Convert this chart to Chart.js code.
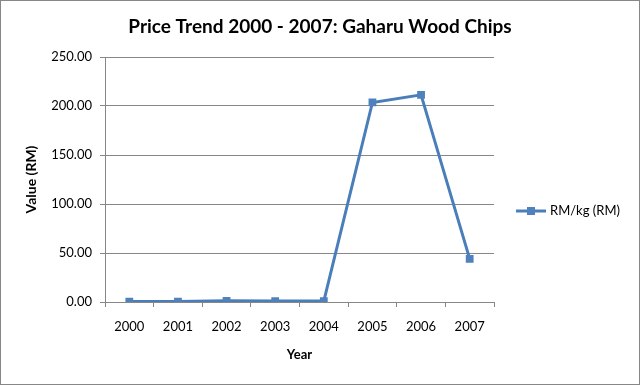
<!DOCTYPE html>
<html>
<head>
<meta charset="utf-8">
<script src="https://cdn.jsdelivr.net/npm/chart.js@4.4.0/dist/chart.umd.min.js"></script>
<style>
  html, body { margin: 0; padding: 0; background: #fff; }
  #wrap { width: 640px; height: 385px; position: relative; }
</style>
</head>
<body>
<div id="wrap"><canvas id="myChart" width="640" height="385"></canvas></div>
<script>
// data
var years = ['2000', '2001', '2002', '2003', '2004', '2005', '2006', '2007'];
var rmPerKg = [0.4, 0.4, 1.2, 0.9, 0.9, 203.6, 211.4, 44.0];
var seriesName = 'RM/kg (RM)';
var chartTitle = 'Price Trend 2000 - 2007: Gaharu Wood Chips';
var yTicks = [0, 50, 100, 150, 200, 250];

var FONT = 'Lato, "Open Sans", sans-serif';
var lineColor = '#4A7EBB';
var markColor = '#4F81BD';

// outer frame, title centred on the whole picture, and excel-style legend sample
var frameAndLegend = {
  id: 'frameAndLegend',
  afterDraw: function (chart) {
    var c = chart.ctx;
    c.save();
    c.strokeStyle = '#878787';
    c.lineWidth = 1;
    c.strokeRect(0.5, 0.5, chart.width - 1, chart.height - 1);

    c.fillStyle = '#000';
    c.font = 'bold 19px ' + FONT;
    c.textAlign = 'center';
    c.textBaseline = 'middle';
    c.fillText(chartTitle, 320, 27);

    var ds = chart.data.datasets[0];
    var y = 211;
    c.strokeStyle = lineColor;
    c.lineWidth = 3;
    c.beginPath();
    c.moveTo(516, y);
    c.lineTo(546, y);
    c.stroke();
    c.fillStyle = markColor;
    c.fillRect(527, y - 4, 8, 8);
    c.fillStyle = '#000';
    c.font = '13px ' + FONT;
    c.textAlign = 'left';
    c.fillText(ds.label, 550, y);
    c.restore();
  }
};

var ctx = document.getElementById('myChart');
new Chart(ctx, {
  type: 'line',
  data: {
    labels: years,
    datasets: [{
      label: seriesName,
      data: rmPerKg,
      borderColor: lineColor,
      backgroundColor: markColor,
      borderWidth: 3,
      pointStyle: 'rect',
      pointRadius: 5.5,
      pointBorderWidth: 0,
      pointBackgroundColor: markColor,
      tension: 0
    }]
  },
  options: {
    responsive: false,
    animation: false,
    devicePixelRatio: 1,
    layout: { padding: { left: 0, right: 146, top: 57, bottom: 0 } },
    plugins: {
      legend: { display: false },
      tooltip: { enabled: false },
      title: { display: false }
    },
    scales: {
      x: {
        type: 'category',
        offset: true,
        grid: {
          offset: true,
          drawOnChartArea: false,
          drawTicks: true,
          tickLength: 5,
          color: '#878787'
        },
        border: { color: '#878787' },
        ticks: {
          color: '#000',
          font: { family: FONT, size: 13 },
          padding: 12,
          maxRotation: 0
        },
        title: {
          display: true,
          text: 'Year',
          color: '#000',
          font: { family: FONT, size: 13, weight: 'bold' },
          padding: { top: 0, bottom: 22 }
        },
        afterFit: function (scale) { scale.height = 83; }
      },
      y: {
        min: 0,
        max: 250,
        afterBuildTicks: function (scale) {
          scale.ticks = yTicks.map(function (v) { return { value: v }; });
        },
        grid: { color: '#878787', tickLength: 5 },
        border: { color: '#878787' },
        ticks: {
          color: '#000',
          font: { family: FONT, size: 13 },
          padding: 8,
          callback: function (v) { return Number(v).toFixed(2); }
        },
        title: {
          display: true,
          text: 'Value (RM)',
          color: '#000',
          font: { family: FONT, size: 14, weight: 'bold' },
          padding: { top: 23, bottom: 0 }
        },
        afterFit: function (scale) { scale.width = 105; }
      }
    }
  },
  plugins: [frameAndLegend]
});
</script>
</body>
</html>
